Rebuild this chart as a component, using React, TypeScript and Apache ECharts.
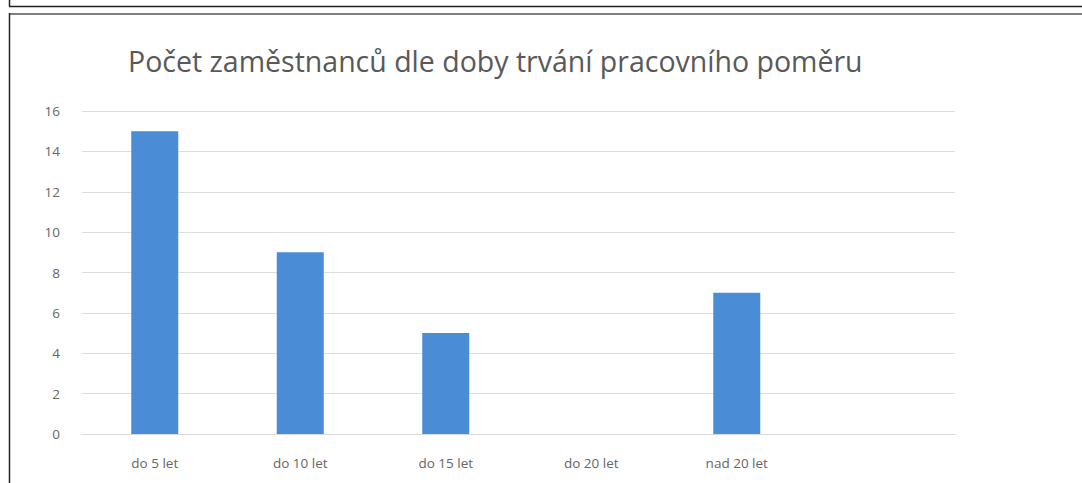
import React, { useEffect, useRef } from "react";
import * as echarts from "echarts";

const titleText = "Počet zaměstnanců dle doby trvání pracovního poměru";
const categories = ["do 5 let", "do 10 let", "do 15 let", "do 20 let", "nad 20 let", ""];
const employees = [15, 9, 5, 0, 7, null];
const yTicks = { min: 0, max: 16, interval: 2 };

export default function App() {
  const ref = useRef<HTMLDivElement>(null);
  useEffect(() => {
    if (!ref.current) return;
    const chart = echarts.init(ref.current, null, { renderer: "svg" });
    chart.setOption({
      animation: false,
      backgroundColor: "#ffffff",
      title: {
        text: titleText,
        left: 123,
        top: 41,
        textStyle: {
          fontFamily: "Open Sans",
          fontSize: 28.5,
          fontWeight: "normal",
          color: "#595959",
        },
      },
      grid: { left: 82, right: 127, top: 111, bottom: 49, containLabel: false },
      xAxis: {
        type: "category",
        data: categories,
        axisLine: { show: true, lineStyle: { color: "#d9d9d9" } },
        axisTick: { show: false },
        axisLabel: {
          color: "#666666",
          fontFamily: "Open Sans",
          fontSize: 13.5,
          margin: 22,
        },
      },
      yAxis: {
        type: "value",
        min: yTicks.min,
        max: yTicks.max,
        interval: yTicks.interval,
        axisLine: { show: false },
        axisTick: { show: false },
        splitLine: { lineStyle: { color: "#dedede", width: 1 } },
        axisLabel: {
          color: "#666666",
          fontFamily: "Open Sans",
          fontSize: 13.5,
          margin: 22,
        },
      },
      series: [
        {
          type: "bar",
          data: employees,
          barWidth: 47,
          itemStyle: { color: "#4a8dd6" },
        },
      ],
      graphic: [
        { type: "line", shape: { x1: 9.5, y1: 0, x2: 9.5, y2: 6.5 }, style: { stroke: "#222", lineWidth: 1.5 } },
        { type: "line", shape: { x1: 9, y1: 6.5, x2: 1082, y2: 6.5 }, style: { stroke: "#222", lineWidth: 1.5 } },
        { type: "line", shape: { x1: 9, y1: 14, x2: 1082, y2: 14 }, style: { stroke: "#808080", lineWidth: 2 } },
        { type: "line", shape: { x1: 9.5, y1: 13, x2: 9.5, y2: 483 }, style: { stroke: "#222", lineWidth: 1.5 } },
      ],
    });
    return () => chart.dispose();
  }, []);
  return (
    <div
      ref={ref}
      style={{ position: "absolute", left: 0, top: 0, width: 1082, height: 483 }}
    />
  );
}
